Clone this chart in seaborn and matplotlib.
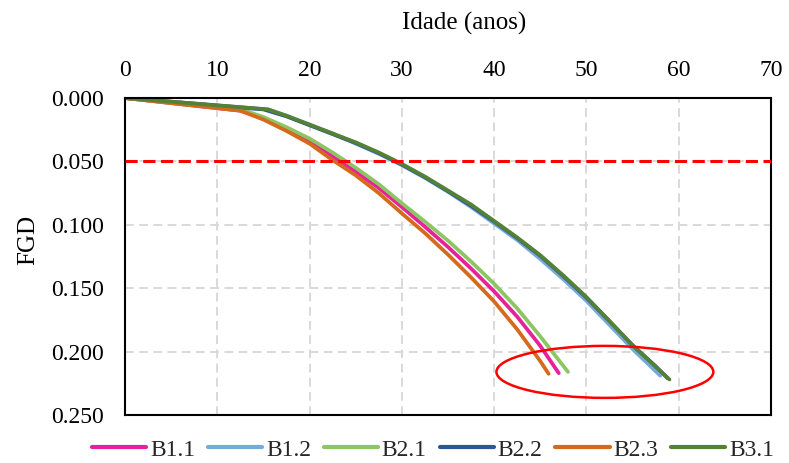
import numpy as np
import pandas as pd
import matplotlib
matplotlib.use("Agg")
import matplotlib.pyplot as plt
from matplotlib.patches import Ellipse
import seaborn as sns

# ---- data ----
series_names = ["B1.1", "B1.2", "B2.1", "B2.2", "B2.3", "B3.1"]
colors = ["#E6229A", "#76AADB", "#8DC563", "#2F5597", "#D5691C", "#548235"]

b11_x = [0, 12.5, 15, 17.5, 20, 22.5, 25, 27.5, 30, 32.5, 35, 37.5, 40, 42.5, 45, 47.0]
b11_y = [0, 0.010, 0.016, 0.025, 0.034, 0.046, 0.058, 0.071, 0.086, 0.1015, 0.1175, 0.1345, 0.1525, 0.1725, 0.1955, 0.217]

b12_x = [0, 15.5, 17.5, 20, 22.5, 25, 27.5, 30, 32.5, 35, 37.5, 40, 42.5, 45, 47.5, 50, 52.5, 55, 58.0]
b12_y = [0, 0.009, 0.014, 0.021, 0.028, 0.036, 0.044, 0.053, 0.063, 0.074, 0.086, 0.099, 0.112, 0.127, 0.143, 0.160, 0.179, 0.198, 0.219]

b21_x = [0, 13, 15, 17.5, 20, 22.5, 25, 27.5, 30, 32.5, 35, 37.5, 40, 42.5, 45, 48.0]
b21_y = [0, 0.010, 0.015, 0.023, 0.032, 0.043, 0.055, 0.068, 0.083, 0.0975, 0.1125, 0.129, 0.1465, 0.166, 0.188, 0.216]

b22_x = [0, 15, 17.5, 20, 22.5, 25, 27.5, 30, 32.5, 35, 37.5, 40, 42.5, 45, 47.5, 50, 52.5, 55, 57.5, 58.8]
b22_y = [0, 0.009, 0.0145, 0.0215, 0.0285, 0.0355, 0.0435, 0.0525, 0.0625, 0.0735, 0.085, 0.0975, 0.1105, 0.1245, 0.1405, 0.1575, 0.176, 0.195, 0.2115, 0.221]

b23_x = [0, 12.5, 15, 17.5, 20, 22.5, 25, 27.5, 30, 32.5, 35, 37.5, 40, 42.5, 45, 45.9]
b23_y = [0, 0.010, 0.017, 0.026, 0.036, 0.049, 0.061, 0.075, 0.091, 0.1065, 0.1235, 0.1415, 0.1605, 0.1825, 0.2075, 0.2175]

b31_x = [0, 15.5, 17.5, 20, 22.5, 25, 27.5, 30, 32.5, 35, 37.5, 40, 42.5, 45, 47.5, 50, 52.5, 55, 57.5, 59.0]
b31_y = [0, 0.009, 0.014, 0.021, 0.028, 0.035, 0.043, 0.052, 0.062, 0.073, 0.084, 0.097, 0.110, 0.124, 0.140, 0.157, 0.176, 0.195, 0.212, 0.222]

limit_fgd = 0.05
x_ticks = [0, 10, 20, 30, 40, 50, 60, 70]
y_ticks = [0.0, 0.05, 0.10, 0.15, 0.20, 0.25]
ellipse_center = (52.0, 0.2160)
ellipse_size = (23.5, 0.041)

# ---- build long-form table ----
xs = [b11_x, b12_x, b21_x, b22_x, b23_x, b31_x]
ys = [b11_y, b12_y, b21_y, b22_y, b23_y, b31_y]
frames = []
for name, x, y in zip(series_names, xs, ys):
    frames.append(pd.DataFrame({"Idade": x, "FGD": y, "Serie": name}))
df = pd.concat(frames, ignore_index=True)

sns.set_theme(style="white")
plt.rcParams["font.family"] = ["Liberation Serif", "DejaVu Serif"]

W, H = 789, 463
fig = plt.figure(figsize=(W / 100, H / 100), dpi=100)
ax = fig.add_axes([125 / W, 1 - 415 / H, (771 - 125) / W, (415 - 98) / H])

ax.grid(True, color="#D9D9D9", linestyle=(0, (4.5, 2.8)), linewidth=1.4)
ax.set_axisbelow(True)

sns.lineplot(data=df, x="Idade", y="FGD", hue="Serie", hue_order=series_names,
             palette=colors, sort=False, estimator=None, linewidth=2.7, ax=ax,
             legend=True)
for ln in ax.get_lines():
    ln.set_solid_joinstyle("round")
    ln.set_solid_capstyle("round")

ax.axhline(limit_fgd, color="#FF0000", linewidth=2.2, linestyle=(0, (4, 1.8)), zorder=3)

ell = Ellipse(ellipse_center, ellipse_size[0], ellipse_size[1], fill=False,
              edgecolor="#FF0000", linewidth=1.8, zorder=4)
ax.add_patch(ell)

ax.set_xlim(0, 70)
ax.set_ylim(0.25, 0.0)
ax.set_xticks(x_ticks)
ax.set_yticks(y_ticks)
ax.set_yticklabels([f"{v:.3f}" for v in y_ticks])
ax.xaxis.tick_top()
ax.xaxis.set_label_position("top")
ax.tick_params(axis="both", length=0, labelsize=17, colors="black")
ax.tick_params(axis="x", pad=12)
ax.tick_params(axis="y", pad=15)

ax.set_xlabel("Idade (anos)", fontsize=18, color="black")
ax.xaxis.label.set_va("center")
ax.xaxis.set_label_coords((464 - 125) / 646, 1 + (98 - 23) / 317)
ax.set_ylabel("FGD", fontsize=18, color="black")
ax.yaxis.label.set_va("center")
ax.yaxis.set_label_coords((28 - 125) / 646, (415 - 240) / 317)

for s in ax.spines.values():
    s.set_visible(True)
    s.set_color("black")
    s.set_linewidth(1.5)

handles, labels = ax.get_legend_handles_labels()
for h in handles:
    h.set_linewidth(3.0)
ax.legend(handles, labels, loc="center", bbox_to_anchor=(433 / W, 1 - 450 / H),
          bbox_transform=fig.transFigure, ncol=6, frameon=False, fontsize=17,
          handlelength=2.3, handletextpad=0.15, columnspacing=0.55,
          borderpad=0.0)

fig.savefig("out.png", dpi=100)
